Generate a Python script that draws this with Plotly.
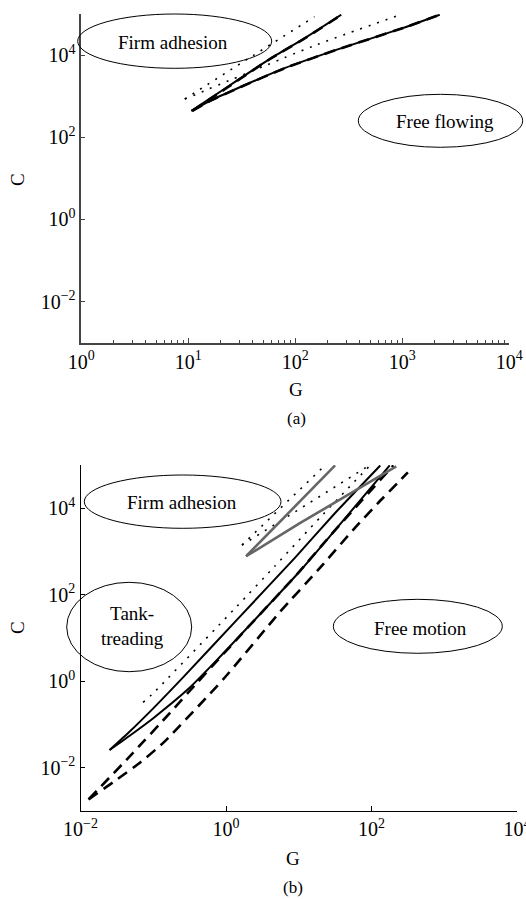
import plotly.graph_objects as go

# ---------------- panel (a) ----------------
a_solid1_G = [10.7, 22.4, 57.5, 126, 269]
a_solid1_C = [437, 1580, 7940, 26900, 95500]
a_solid2_G = [10.7, 15.8, 28.2, 79.4, 245, 1020, 2240]
a_solid2_C = [437, 759, 1510, 4790, 13500, 45700, 95500]
a_dash1_G = [10.9, 23.0, 58.0, 128, 272]
a_dash1_C = [440, 1600, 8000, 27200, 96000]
a_dash2_G = [10.9, 16.0, 28.5, 80.0, 248, 1030, 2260]
a_dash2_C = [440, 765, 1520, 4800, 13600, 46000, 96000]
a_dot1_G = [9.27, 37.2, 151]
a_dot1_C = [851, 8500, 85100]
a_dot2_G = [9.27, 148, 955]
a_dot2_C = [851, 16600, 95500]

# ---------------- panel (b) ----------------
b_grey1_G = [1.89, 31.6]
b_grey1_C = [776, 97700]
b_grey2_G = [1.89, 10.5, 219]
b_grey2_C = [776, 4570, 93300]
b_solid1_G = [0.0251, 0.0479, 0.1, 0.257, 1.41, 8.91, 31.6, 132]
b_solid1_C = [0.0257, 0.0698, 0.236, 1.23, 26.3, 724, 7760, 97700]
b_solid2_G = [0.0251, 0.0479, 0.1, 0.302, 0.741, 9.77, 26.9, 178]
b_solid2_C = [0.0257, 0.0557, 0.140, 0.658, 3.03, 314, 2270, 97700]
b_dash1_G = [0.0129, 0.0479, 0.170, 0.398, 1.58, 9.77, 26.9, 200]
b_dash1_C = [0.00186, 0.0186, 0.186, 0.912, 11.5, 316, 2290, 97700]
b_dash2_G = [0.0129, 0.0295, 0.0661, 0.138, 0.912, 5.50, 18.6, 61.7, 123, 316]
b_dash2_C = [0.00186, 0.0049, 0.0132, 0.0380, 1.10, 39.8, 380, 3800, 13200, 67600]
b_dot1_G = [0.0724, 0.0955, 1.41, 4.68, 20.0, 95.5]
b_dot1_C = [0.324, 0.490, 53.7, 457, 6310, 97700]
b_dot2_G = [1.66, 22.9]
b_dot2_C = [1410, 97700]
b_dot3_G = [1.66, 89.1]
b_dot3_C = [1410, 93300]

# tick labels
a_xticks = [1, 10, 100, 1000, 10000]
a_xtext = ["10<sup>0</sup>", "10<sup>1</sup>", "10<sup>2</sup>", "10<sup>3</sup>", "10<sup>4</sup>"]
b_xticks = [0.01, 1, 100, 10000]
b_xtext = ["10<sup>−2</sup>", "10<sup>0</sup>", "10<sup>2</sup>", "10<sup>4</sup>"]
yticks = [0.01, 1, 100, 10000]
ytext = ["10<sup>−2</sup>", "10<sup>0</sup>", "10<sup>2</sup>", "10<sup>4</sup>"]

W, H = 526, 899
FONT = "Liberation Serif"

SOLID = dict(color="black", width=2)
DASH = dict(color="black", width=2.6, dash="11px,7px")
DOT = dict(color="black", width=1.6, dash="2px,7px")
GREY = dict(color="#666666", width=2.6)

fig = go.Figure()


def add(xs, ys, line, ax=""):
    fig.add_trace(go.Scatter(
        x=xs, y=ys, mode="lines",
        line=dict(shape="spline", smoothing=0.5, **line),
        xaxis="x" + ax, yaxis="y" + ax, showlegend=False, hoverinfo="skip"))


# panel (a)
add(a_dot1_G, a_dot1_C, DOT)
add(a_dot2_G, a_dot2_C, DOT)
add(a_solid1_G, a_solid1_C, SOLID)
add(a_solid2_G, a_solid2_C, SOLID)
add(a_dash1_G, a_dash1_C, DASH)
add(a_dash2_G, a_dash2_C, DASH)

# panel (b)
add(b_dot1_G, b_dot1_C, DOT, "2")
add(b_dot2_G, b_dot2_C, DOT, "2")
add(b_dot3_G, b_dot3_C, DOT, "2")
add(b_solid1_G, b_solid1_C, SOLID, "2")
add(b_solid2_G, b_solid2_C, SOLID, "2")
add(b_dash1_G, b_dash1_C, DASH, "2")
add(b_dash2_G, b_dash2_C, DASH, "2")
add(b_grey1_G, b_grey1_C, GREY, "2")
add(b_grey2_G, b_grey2_C, GREY, "2")


def px(x):
    return x / W


def py(y):
    return 1 - y / H


tickfont = dict(family=FONT, size=20, color="black")
common = dict(type="log", showgrid=False, zeroline=False, showline=True,
              ticks="inside", tickfont=tickfont, automargin=False,
              ticklabeloverflow="allow")

minor_vals = [m * 10 ** k for k in range(0, 4) for m in range(2, 10)]

fig.update_layout(
    width=W, height=H,
    margin=dict(l=0, r=0, t=0, b=0, autoexpand=False),
    paper_bgcolor="white", plot_bgcolor="white",
    xaxis=dict(common, range=[0, 4], domain=[px(81.3), px(509.3)], anchor="y",
               tickvals=a_xticks, ticktext=a_xtext, linecolor="#444444",
               linewidth=1.5, tickcolor="#444444", ticklen=5,
               minor=dict(ticks="inside", ticklen=3, tickvals=minor_vals,
                          tickcolor="#444444", showgrid=False)),
    yaxis=dict(common, range=[-3, 5], domain=[py(342.8), py(13.9)], anchor="x",
               tickvals=yticks, ticktext=ytext, linecolor="#444444",
               linewidth=1.5, tickcolor="#444444", ticklen=4),
    xaxis2=dict(common, range=[-2, 4], domain=[px(80.5), px(517)], anchor="y2",
                tickvals=b_xticks, ticktext=b_xtext, linecolor="black",
                linewidth=1.3, tickcolor="black", ticklen=5),
    yaxis2=dict(common, range=[-3, 5], domain=[py(811), py(465)], anchor="x2",
                tickvals=yticks, ticktext=ytext, linecolor="black",
                linewidth=1.3, tickcolor="black", ticklen=4),
)

# region ellipses (pixel boxes -> paper)
ellipses = [
    (77.7, 14, 271.7, 68.3),
    (358.3, 94.3, 522.7, 147.3),
    (84.3, 475, 281, 528.3),
    (66.7, 582.3, 191.7, 671.7),
    (333.3, 599.3, 502.3, 653.3),
]
for x0, y0, x1, y1 in ellipses:
    fig.add_shape(type="circle", xref="paper", yref="paper",
                  x0=px(x0), x1=px(x1), y0=py(y1), y1=py(y0),
                  line=dict(color="black", width=1), layer="above")

texts = [
    ("Firm adhesion", 173, 42, 19, 0),
    ("Free flowing", 445, 121.7, 19, 0),
    ("Firm adhesion", 182.3, 502.3, 19, 0),
    ("Tank-<br>treading", 132.3, 626, 19, 0),
    ("Free motion", 420.7, 628.3, 19, 0),
    ("C", 17, 180, 19, -90),
    ("G", 296, 390, 19, 0),
    ("(a)", 296, 418.3, 17, 0),
    ("C", 17, 628, 19, -90),
    ("G", 293, 858.3, 19, 0),
    ("(b)", 293, 887.7, 17, 0),
]
for t, x, y, s, ang in texts:
    fig.add_annotation(text=t, xref="paper", yref="paper", x=px(x), y=py(y),
                       xanchor="center", yanchor="middle", showarrow=False,
                       textangle=ang,
                       font=dict(family=FONT, size=s, color="black"))

fig.write_html("out.html")
